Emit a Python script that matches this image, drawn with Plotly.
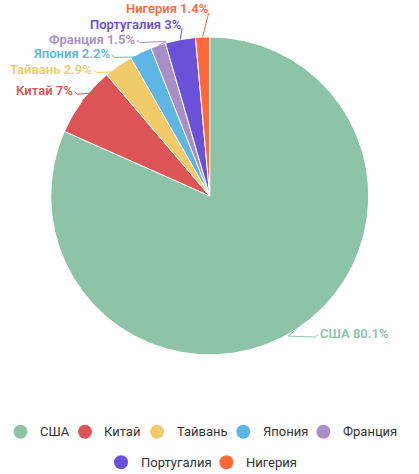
import math
import plotly.graph_objects as go

# ---------------- data ----------------
countries = ["США", "Китай", "Тайвань", "Япония", "Франция", "Португалия", "Нигерия"]
shares = [80.1, 7, 2.9, 2.2, 1.5, 3, 1.4]
colors = ["#8DC3A7", "#DC5456", "#F0CB69", "#5EB6E4", "#A98FC7", "#6B51D7", "#FF6938"]

# ---------------- layout constants ----------------
W, H = 419, 474
CX, CY, R = 209.7, 195.9, 159.0      # pie centre / radius in px
LABEL_R = 169.0                      # radius on which labels sit
LABEL_GAP = 15.0                     # min vertical distance between labels
LABEL_TOP = 9.0                      # highest allowed label centre
FONT = "Roboto, 'Open Sans', sans-serif"
FS = 13
LEGEND_Y0, LEGEND_ROW_H = 431.7, 30.6

# approximate Roboto advance widths (em) for text-width estimation
CHAR_W = {
    "С": .652, "Ш": .878, "А": .652, "К": .63, "Т": .613, "Я": .632, "Ф": .79,
    "П": .698, "Н": .712, "и": .552, "т": .49, "а": .544, "й": .552, "в": .536,
    "н": .552, "ь": .514, "я": .519, "о": .57, "р": .561, "ц": .557, "у": .473,
    "г": .378, "л": .545, "е": .53, " ": .248, ".": .264, "%": .733,
}


def text_w(s, size=FS):
    return sum(CHAR_W.get(c, .562) for c in s) * size


def px(x):
    return x / W


def py(y):
    return 1 - y / H


fig = go.Figure()
fig.add_trace(go.Pie(
    labels=countries, values=shares, sort=False, direction="clockwise", rotation=0,
    marker=dict(colors=colors, line=dict(color="#ffffff", width=1)),
    textinfo="none", showlegend=False, hoverinfo="label+percent",
    domain=dict(x=[px(CX - R), px(CX + R)], y=[py(CY + R), py(CY - R)]),
))

# ---------------- outside labels with leader lines ----------------
total = sum(shares)
items = []
cum = 0.0
for name, v, col in zip(countries, shares, colors):
    th = 2 * math.pi * (cum + v / 2) / total
    cum += v
    items.append(dict(
        text=f"{name} {v:g}%", color=col, side=(-1 if math.sin(th) < 0 else 1),
        ex=CX + R * math.sin(th), ey=CY - R * math.cos(th),
        yn=CY - LABEL_R * math.cos(th) - 4,
    ))


def spread(group):
    group.sort(key=lambda d: d["yn"])
    clusters = [[d] for d in group]

    def centre(cl):
        return sum(d["yn"] for d in cl) / len(cl)

    def place(cl, c):
        n = len(cl)
        for k, d in enumerate(cl):
            d["y"] = c + (k - (n - 1) / 2) * LABEL_GAP

    changed = True
    while changed:
        changed = False
        for cl in clusters:
            place(cl, centre(cl))
        first = clusters[0]
        if first[0]["y"] < LABEL_TOP:
            shift = LABEL_TOP - first[0]["y"]
            for d in first:
                d["y"] += shift
        for k in range(len(clusters) - 1):
            if clusters[k + 1][0]["y"] - clusters[k][-1]["y"] < LABEL_GAP - 1e-6:
                clusters[k] = clusters[k] + clusters[k + 1]
                del clusters[k + 1]
                changed = True
                break


spread([d for d in items if d["side"] < 0])
spread([d for d in items if d["side"] > 0])

shapes = []
annotations = []
for d in items:
    yc = d["y"]
    dy = max(0.0, abs(yc - CY) - 5)
    h = math.sqrt(max(0.0, LABEL_R ** 2 - dy ** 2))
    s = d["side"]
    if s < 0:
        xt = CX - h
        anchor = "right"
    else:
        xt = CX + h + 5
        anchor = "left"
    annotations.append(dict(
        x=px(xt), y=py(yc), xref="paper", yref="paper", text=d["text"], showarrow=False,
        xanchor=anchor, yanchor="middle", borderpad=0,
        font=dict(family=FONT, size=FS, color=d["color"], weight=600),
    ))
    # leader line
    if s < 0 and xt > d["ex"] - 4:
        pts = [(xt - 1, yc + 4), (d["ex"], d["ey"])]
    else:
        a = (xt - s * 1, yc + 1)
        b = (xt - s * 4, yc + 3.5)
        pts = [a, b]
        c = (d["ex"] - s * 8, b[1] - 1)
        if (c[0] - b[0]) * (-s) > 2:
            pts.append(c)
        pts.append((d["ex"], d["ey"]))
    path = "M " + " L ".join(f"{px(x):.5f},{py(y):.5f}" for x, y in pts)
    shapes.append(dict(type="path", xref="paper", yref="paper", path=path,
                       line=dict(color=d["color"], width=1)))

# ---------------- legend (circles + names, centred rows) ----------------
SYM_R = 7
TXT_OFF = 18.5
ITEM_GAP = 10.6
rows, cur, cur_w = [], [], 0.0
for i, name in enumerate(countries):
    iw = SYM_R + TXT_OFF + text_w(name) + ITEM_GAP
    if cur and cur_w + iw > W - 20:
        rows.append(cur)
        cur, cur_w = [], 0.0
    cur.append(i)
    cur_w += iw
rows.append(cur)

for r_i, row in enumerate(rows):
    row_w = sum(SYM_R + TXT_OFF + text_w(countries[i]) + ITEM_GAP for i in row)
    x = W / 2 - row_w / 2
    yy = LEGEND_Y0 + r_i * LEGEND_ROW_H
    for i in row:
        ccx = x + SYM_R
        shapes.append(dict(type="circle", xref="paper", yref="paper",
                           xsizemode="pixel", ysizemode="pixel",
                           xanchor=px(ccx), yanchor=py(yy),
                           x0=-SYM_R, x1=SYM_R, y0=-SYM_R, y1=SYM_R,
                           fillcolor=colors[i], line=dict(width=0)))
        annotations.append(dict(
            x=px(ccx + TXT_OFF), y=py(yy), xref="paper", yref="paper",
            text=countries[i], showarrow=False, xanchor="left", yanchor="middle",
            borderpad=0, font=dict(family=FONT, size=FS, color="#333333"),
        ))
        x = ccx + TXT_OFF + text_w(countries[i]) + ITEM_GAP

fig.update_layout(
    width=W, height=H, margin=dict(l=0, r=0, t=0, b=0),
    paper_bgcolor="#ffffff", plot_bgcolor="#ffffff",
    showlegend=False, shapes=shapes, annotations=annotations,
    font=dict(family=FONT, size=FS),
)
fig.write_html("out.html")
